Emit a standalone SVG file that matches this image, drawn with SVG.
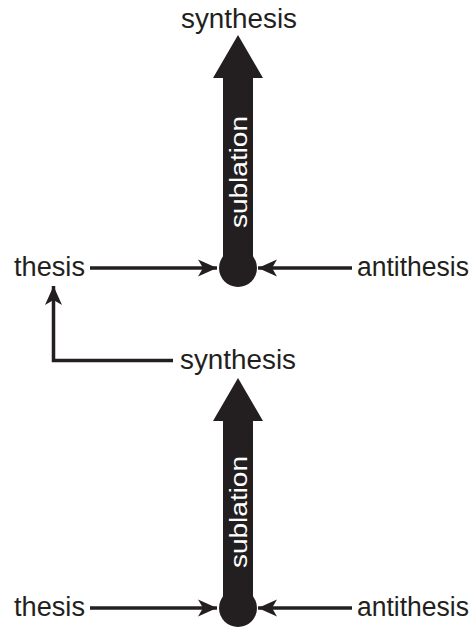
<svg xmlns="http://www.w3.org/2000/svg" width="474" height="629" viewBox="0 0 474 629">
<defs>
<style>
.lbl{font-family:"Liberation Sans",Arial,Helvetica,sans-serif;font-size:27px;fill:#231f20;}
.sub{font-family:"Liberation Sans",Arial,Helvetica,sans-serif;font-size:23px;fill:#ffffff;}
.bigfill{fill:#231f20;}
.thin{stroke:#231f20;stroke-width:3.5;fill:none;}
</style>
<marker id="ah" markerUnits="userSpaceOnUse" markerWidth="24" markerHeight="20" viewBox="-20 -10 22 20" refX="0" refY="0" orient="auto">
<path d="M0,0 L-19,-8.5 L-14,0 L-19,8.5 Z" fill="#231f20"/>
</marker>
</defs>
<rect width="474" height="629" fill="#ffffff"/>

<g id="top-sublation">
<path class="bigfill" d="M238,35 L263,78 L253,78 L253,268 L223,268 L223,78 L213,78 Z"/>
<circle class="bigfill" cx="238" cy="268" r="19"/>
<text class="sub" transform="translate(247,172) rotate(-90)" text-anchor="middle" textLength="112" lengthAdjust="spacingAndGlyphs">sublation</text>
</g>
<g id="bottom-sublation">
<path class="bigfill" d="M238,378 L263,421 L253,421 L253,608 L223,608 L223,421 L213,421 Z"/>
<circle class="bigfill" cx="238" cy="608" r="19"/>
<text class="sub" transform="translate(247,512) rotate(-90)" text-anchor="middle" textLength="112" lengthAdjust="spacingAndGlyphs">sublation</text>
</g>

<g id="top-synthesis"><text class="lbl" x="181" y="28" textLength="116" lengthAdjust="spacingAndGlyphs">synthesis</text></g>
<g id="top-thesis"><text class="lbl" x="14" y="276" textLength="71" lengthAdjust="spacingAndGlyphs">thesis</text></g>
<g id="top-antithesis"><text class="lbl" x="357" y="276" textLength="112" lengthAdjust="spacingAndGlyphs">antithesis</text></g>
<g id="mid-synthesis"><text class="lbl" x="180" y="369" textLength="116" lengthAdjust="spacingAndGlyphs">synthesis</text></g>
<g id="bottom-thesis"><text class="lbl" x="14" y="616" textLength="71" lengthAdjust="spacingAndGlyphs">thesis</text></g>
<g id="bottom-antithesis"><text class="lbl" x="357" y="616" textLength="112" lengthAdjust="spacingAndGlyphs">antithesis</text></g>

<g id="connectors">
<path class="thin" d="M90,268 L217,268" marker-end="url(#ah)"/>
<path class="thin" d="M352,268 L258,268" marker-end="url(#ah)"/>
<path class="thin" d="M173,360.5 L53.5,360.5 L53.5,286" marker-end="url(#ah)"/>
<path class="thin" d="M90,608 L217,608" marker-end="url(#ah)"/>
<path class="thin" d="M352,608 L258,608" marker-end="url(#ah)"/>
</g>
</svg>
